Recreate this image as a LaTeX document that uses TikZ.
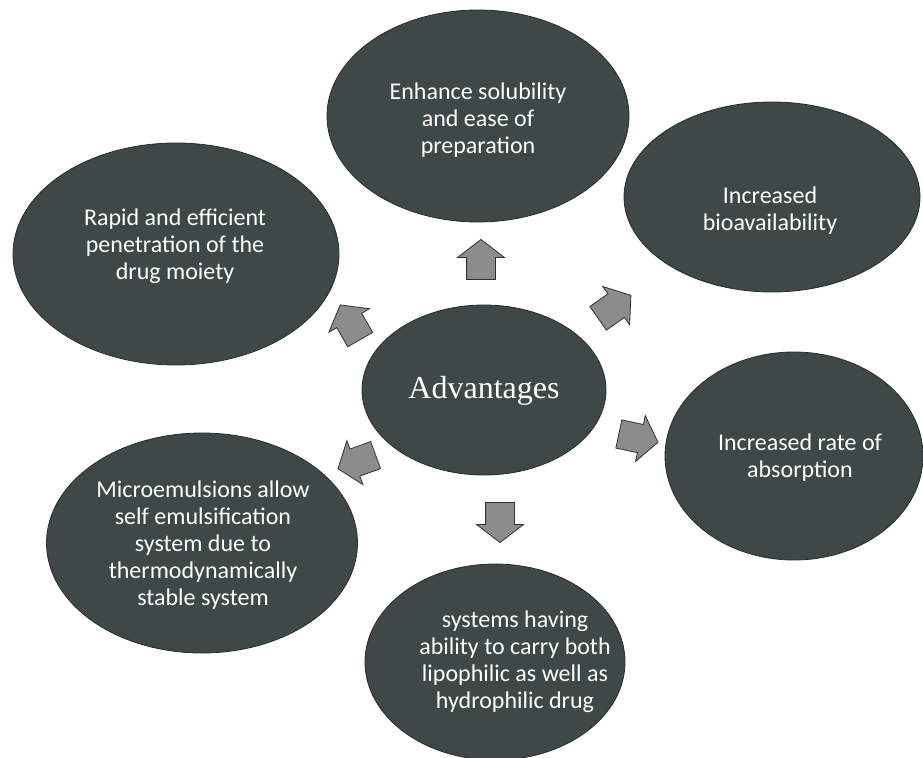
\documentclass[tikz,border=0pt]{standalone}
\usepackage{fontspec}
\setmainfont{Carlito}
\newfontfamily\advfont{Liberation Serif}
\usetikzlibrary{shapes.geometric,shapes.arrows}
\definecolor{ellfill}{RGB}{62,72,70}
\definecolor{ellline}{RGB}{40,46,45}
\definecolor{arrfill}{RGB}{140,140,140}
\definecolor{arrline}{RGB}{50,50,50}
\tikzset{
  bubble/.style={ellipse, fill=ellfill, draw=ellline, line width=0.8bp, inner sep=0pt},
  btext/.style={text=white, align=center, font=\fontsize{24bp}{27bp}\selectfont, inner sep=0pt},
  blockarrow/.style={single arrow, fill=arrfill, draw=arrline, line width=0.8bp,
    minimum height=40bp, single arrow head extend=9bp,
    single arrow tip angle=105, inner xsep=2bp, inner ysep=14bp},
}
\begin{document}
\begin{tikzpicture}[x=1bp,y=-1bp]
\useasboundingbox (0,0) rectangle (923,758);
\fill[white] (0,0) rectangle (923,758);

% bubbles
\node[bubble, minimum width=302bp, minimum height=212bp] (top) at (478,116) {};
\node[bubble, minimum width=326bp, minimum height=222bp] (lt) at (176,254) {};
\node[bubble, minimum width=296bp, minimum height=190bp] (rt) at (772,197) {};
\node[bubble, minimum width=244bp, minimum height=170bp] (ctr) at (484,390) {};
\node[bubble, minimum width=258bp, minimum height=208bp] (rb) at (794,456) {};
\node[bubble, minimum width=311bp, minimum height=220bp] (lb) at (202,543) {};
\node[bubble, minimum width=260bp, minimum height=196bp] (bot) at (495,662) {};

% texts
\node[btext] (toptext) at (478,120) {Enhance solubility\\and ease of\\preparation};
\node[btext] (lttext) at (175,246) {Rapid and efficient\\penetration of the\\drug moiety};
\node[btext] (rttext) at (770,211) {Increased\\bioavailability};
\node[text=white, inner sep=0pt, font=\advfont\fontsize{32bp}{36bp}\selectfont] (ctrtext) at (484,391) {Advantages};
\node[btext] (rbtext) at (800,458) {Increased rate of\\absorption};
\node[btext] (lbtext) at (203,545) {Microemulsions allow\\self emulsification\\system due to\\thermodynamically\\stable system};
\node[btext] (bottext) at (515,662) {systems having\\ability to carry both\\lipophilic as well as\\hydrophilic drug};

% block arrows
\node[blockarrow, rotate=90] (aup) at (481,265) {};
\node[blockarrow, rotate=35] (aur) at (610,310) {};
\node[blockarrow, rotate=120] (aul) at (353,327) {};
\node[blockarrow, rotate=200] (adl) at (362,460) {};
\node[blockarrow, rotate=-12] (adr) at (633,437) {};
\node[blockarrow, rotate=-90] (adn) at (500,517) {};
\end{tikzpicture}
\end{document}
